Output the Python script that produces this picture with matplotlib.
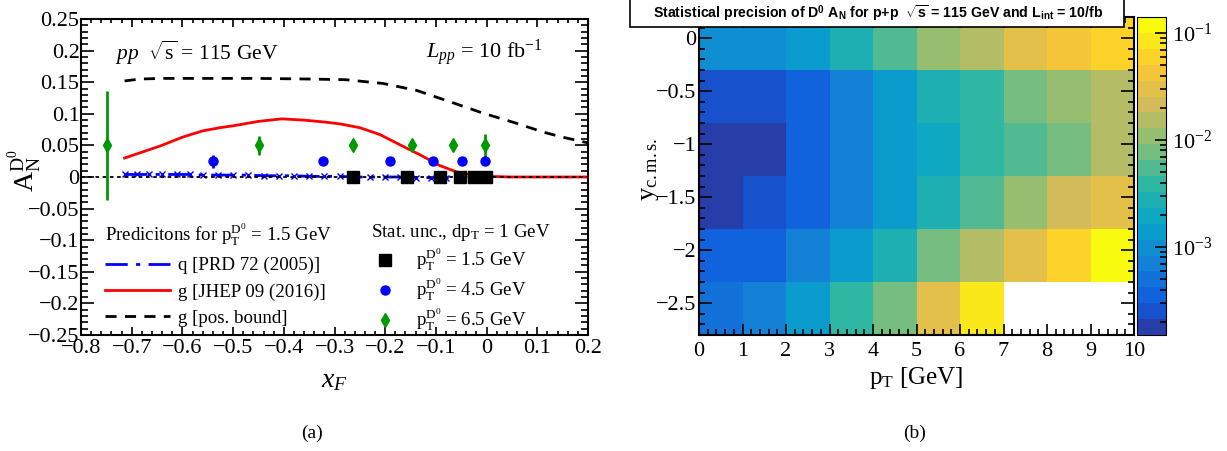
import numpy as np
import matplotlib
matplotlib.use('Agg')
import matplotlib.pyplot as plt
from matplotlib.colors import LinearSegmentedColormap, ListedColormap, LogNorm
from matplotlib.lines import Line2D
from matplotlib.patches import Rectangle
from matplotlib.ticker import MultipleLocator, LogLocator, NullFormatter, FuncFormatter, LogFormatterMathtext

plt.rcParams['font.family'] = ['Liberation Serif', 'DejaVu Serif']
plt.rcParams['mathtext.fontset'] = 'custom'
plt.rcParams['mathtext.rm'] = 'Liberation Serif'
plt.rcParams['mathtext.it'] = 'Liberation Serif:italic'
plt.rcParams['mathtext.bf'] = 'Liberation Serif:bold'
plt.rcParams['mathtext.sf'] = 'Liberation Sans:bold'

# ---------------- data: panel (a) ----------------
q_x = [-0.713, -0.69, -0.665, -0.64, -0.61, -0.585, -0.56, -0.53, -0.5, -0.47, -0.44, -0.41,
       -0.38, -0.35, -0.32, -0.29, -0.26, -0.23, -0.2, -0.17, -0.14, -0.11, -0.08, -0.05, -0.02, 0.0]
q_y = [0.004, 0.004, 0.004, 0.004, 0.004, 0.004, 0.003, 0.003, 0.003, 0.003, 0.002, 0.002,
       0.002, 0.001, 0.001, 0.001, 0.0, 0.0, 0.0, 0.0, -0.001, -0.001, -0.001, 0.0, 0.0, 0.0]

g_x = [-0.714, -0.644, -0.6, -0.56, -0.526, -0.5, -0.45, -0.404, -0.36, -0.32, -0.289, -0.25, -0.21,
       -0.171, -0.131, -0.092, -0.059, -0.027, 0.0, 0.05, 0.1, 0.15, 0.2]
g_y = [0.030, 0.049, 0.063, 0.073, 0.078, 0.081, 0.088, 0.092, 0.090, 0.087, 0.084, 0.078, 0.067,
       0.051, 0.035, 0.018, 0.008, 0.003, 0.001, 0.0, 0.0, 0.0, 0.0]

pos_x = [-0.714, -0.684, -0.64, -0.55, -0.45, -0.35, -0.279, -0.204, -0.138, -0.072, -0.007,
         0.059, 0.112, 0.15, 0.2]
pos_y = [0.152, 0.155, 0.156, 0.156, 0.156, 0.155, 0.154, 0.148, 0.137, 0.119, 0.101,
         0.085, 0.071, 0.063, 0.054]

pt15_x = [-0.264, -0.157, -0.092, -0.052, -0.024, -0.001]
pt15_y = [0.0, 0.0, 0.0, 0.0, 0.0, 0.0]
pt15_err = [0.0, 0.0, 0.0, 0.0, 0.0, 0.0]

pt45_x = [-0.539, -0.323, -0.19, -0.105, -0.048, -0.003]
pt45_y = [0.025, 0.025, 0.025, 0.025, 0.025, 0.025]
pt45_err = [0.010, 0.001, 0.001, 0.001, 0.001, 0.002]

pt65_x = [-0.748, -0.448, -0.264, -0.147, -0.067, -0.003]
pt65_y = [0.05, 0.05, 0.05, 0.05, 0.05, 0.05]
pt65_err = [0.086, 0.015, 0.004, 0.005, 0.005, 0.018]

# ---------------- data: panel (b) ----------------
pt_edges = [0, 1, 2, 3, 4, 5, 6, 7, 8, 9, 10]
y_edges = [-2.8, -2.3, -1.8, -1.3, -0.8, -0.3, 0.2]
# rows listed from top (y = -0.3..0.2) to bottom (y = -2.8..-2.3)
prec_row_top = [9.9e-4, 9.9e-4, 1.40e-3, 2.77e-3, 5.48e-3, 1.09e-2, 1.53e-2, 3.03e-2, 4.27e-2, 6.0e-2]
prec_row_2 = [2.53e-4, 2.53e-4, 3.56e-4, 7.05e-4, 1.40e-3, 2.77e-3, 3.90e-3, 7.73e-3, 1.09e-2, 1.53e-2]
prec_row_3 = [1.79e-4, 1.79e-4, 3.56e-4, 7.05e-4, 1.40e-3, 1.97e-3, 3.90e-3, 5.48e-3, 7.73e-3, 1.53e-2]
prec_row_4 = [1.79e-4, 2.53e-4, 3.56e-4, 7.05e-4, 1.40e-3, 2.77e-3, 5.48e-3, 1.09e-2, 2.15e-2, 3.03e-2]
prec_row_5 = [3.56e-4, 3.56e-4, 7.05e-4, 1.40e-3, 2.77e-3, 7.73e-3, 1.53e-2, 3.03e-2, 6.0e-2, 0.119]
prec_row_bot = [5.0e-4, 7.05e-4, 1.40e-3, 3.90e-3, 7.73e-3, 3.03e-2, 8.46e-2, np.nan, np.nan, np.nan]
z_min, z_max = 1.51e-4, 0.141

# ROOT kBird palette stops
bird_stops = [0.0, 0.125, 0.25, 0.375, 0.5, 0.625, 0.75, 0.875, 1.0]
bird_r = [0.2082, 0.0592, 0.0780, 0.0232, 0.1802, 0.5301, 0.8186, 0.9956, 0.9764]
bird_g = [0.1664, 0.3599, 0.5041, 0.6419, 0.7178, 0.7492, 0.7328, 0.7862, 0.9832]
bird_b = [0.5293, 0.8684, 0.8385, 0.7914, 0.6425, 0.4662, 0.3499, 0.1968, 0.0539]

# ---------------- figure ----------------
W, H = 1227, 451
fig = plt.figure(figsize=(W / 100, H / 100), dpi=100)

def fx(px):
    return px / W

def fy(py):
    return 1 - py / H

tick_fs = 16
minus = '\u2212'

def fmt_g(v, pos):
    s = '%g' % round(v, 6)
    if s == '-0':
        s = '0'
    return s.replace('-', minus)

# ---- panel (a) ----
ax1 = fig.add_axes([fx(81), fy(335), fx(588) - fx(81), fy(19) - fy(335)])
ax1.set_xlim(-0.8, 0.2)
ax1.set_ylim(-0.25, 0.25)

ax1.plot(g_x, g_y, color='#ff0000', lw=2.0, zorder=3)
ax1.plot(pos_x, pos_y, color='black', lw=2.0, dashes=(4, 3), zorder=3)
ax1.plot(q_x, q_y, color='#0000ff', lw=2.0, dashes=(8, 3, 1.5, 3), marker='x', ms=4, mew=1.0, zorder=4)
ax1.axhline(0.0, color='black', lw=1.3, dashes=(2, 2), zorder=5)

ax1.errorbar(pt15_x, pt15_y, yerr=pt15_err, fmt='s', color='black', ms=8, capsize=0, zorder=6)
ax1.errorbar(pt45_x, pt45_y, yerr=pt45_err, fmt='o', color='#0000ff', ms=6.5, elinewidth=2, capsize=0, zorder=6)
ax1.errorbar(pt65_x, pt65_y, yerr=pt65_err, fmt='d', color='#009900', ms=7.5, elinewidth=2, capsize=0, zorder=6)

ax1.xaxis.set_major_locator(MultipleLocator(0.1))
ax1.xaxis.set_minor_locator(MultipleLocator(0.02))
ax1.yaxis.set_major_locator(MultipleLocator(0.05))
ax1.yaxis.set_minor_locator(MultipleLocator(0.01))
ax1.xaxis.set_major_formatter(FuncFormatter(fmt_g))
ax1.yaxis.set_major_formatter(FuncFormatter(fmt_g))
ax1.tick_params(which='both', direction='in', top=True, right=True, labelsize=tick_fs, width=1.2)
ax1.tick_params(axis='x', which='major', length=6, pad=3)
ax1.tick_params(axis='x', which='minor', length=3)
ax1.tick_params(axis='y', which='major', length=9.5, pad=1)
ax1.tick_params(axis='y', which='minor', length=5)
for sp in ax1.spines.values():
    sp.set_linewidth(1.5)

ax1.text(0.067, 0.893, r'$pp$  $\sqrt{\mathrm{s}}$ = 115 GeV', transform=ax1.transAxes, fontsize=15.5,
         ha='left', va='center')
ax1.text(0.911, 0.893, r'$L_{pp}$ = 10 fb$^{\mathrm{-1}}$', transform=ax1.transAxes, fontsize=16,
         ha='right', va='center')

ax1.set_xlabel(r'$x_{F}$', fontsize=20, labelpad=7)
ax1.set_ylabel(r'A$_{\mathrm{N}}^{\mathrm{D}^{0}}$', fontsize=20)
ax1.yaxis.set_label_coords(-0.072, 0.52)

leg_fs = 13.6
h_q = Line2D([], [], color='#0000ff', lw=2.0, dashes=(8, 3, 1.5, 3))
h_g = Line2D([], [], color='#ff0000', lw=2.0)
h_p = Line2D([], [], color='black', lw=2.0, dashes=(4, 3))
leg1 = ax1.legend([h_q, h_g, h_p], ['q [PRD 72 (2005)]', 'g [JHEP 09 (2016)]', 'g [pos. bound]'],
                  title=r'Predicitons for p$_{\mathrm{T}}^{\mathrm{D}^{0}}$ = 1.5 GeV', title_fontsize=leg_fs,
                  fontsize=leg_fs, loc='upper left', bbox_to_anchor=(0.022, 0.40), frameon=False,
                  alignment='left', handlelength=3.4, handletextpad=0.45, labelspacing=0.48, borderpad=0.2)
ax1.add_artist(leg1)
h_s = Line2D([], [], color='black', marker='s', ls='none', ms=8)
h_c = Line2D([], [], color='#0000ff', marker='o', ls='none', ms=6.5)
h_d = Line2D([], [], color='#009900', marker='d', ls='none', ms=7.5)
leg2 = ax1.legend([h_s, h_c, h_d],
                  [r'p$_{\mathrm{T}}^{\mathrm{D}^{0}}$ = 1.5 GeV', r'p$_{\mathrm{T}}^{\mathrm{D}^{0}}$ = 4.5 GeV',
                   r'p$_{\mathrm{T}}^{\mathrm{D}^{0}}$ = 6.5 GeV'],
                  title=r'Stat. unc., dp$_{\mathrm{T}}$ = 1 GeV', title_fontsize=leg_fs,
                  fontsize=leg_fs, loc='upper left', bbox_to_anchor=(0.545, 0.40), frameon=False,
                  alignment='left', handlelength=1.5, handletextpad=0.9, labelspacing=0.2, borderpad=0.2)

# ---- panel (b) ----
cvals = np.linspace(0, 1, 20 + 1)[1:]
bird = LinearSegmentedColormap.from_list('bird', list(zip(bird_stops, np.column_stack([bird_r, bird_g, bird_b]))))
cmap = ListedColormap([bird(c) for c in cvals])
cmap.set_bad('white')
norm = LogNorm(vmin=z_min, vmax=z_max)

Z = np.array([prec_row_bot, prec_row_5, prec_row_4, prec_row_3, prec_row_2, prec_row_top])
Z = np.ma.masked_invalid(Z)

ax2 = fig.add_axes([fx(699), fy(335), fx(1134) - fx(699), fy(17) - fy(335)])
mesh = ax2.pcolormesh(pt_edges, y_edges, Z, cmap=cmap, norm=norm)
ax2.set_xlim(0, 10)
ax2.set_ylim(-2.8, 0.2)
ax2.xaxis.set_major_locator(MultipleLocator(1))
ax2.xaxis.set_minor_locator(MultipleLocator(0.2))
ax2.yaxis.set_major_locator(MultipleLocator(0.5))
ax2.yaxis.set_minor_locator(MultipleLocator(0.1))
ax2.xaxis.set_major_formatter(FuncFormatter(fmt_g))
ax2.yaxis.set_major_formatter(FuncFormatter(fmt_g))
ax2.tick_params(which='both', direction='in', top=True, right=True, labelsize=tick_fs, width=1.2)
ax2.tick_params(axis='x', which='major', length=8, pad=5)
ax2.tick_params(axis='x', which='minor', length=4)
ax2.tick_params(axis='y', which='major', length=9.5, pad=2)
ax2.tick_params(axis='y', which='minor', length=4.5)
for sp in ax2.spines.values():
    sp.set_linewidth(1.5)
ax2.set_xlabel(r'p$_{\mathrm{T}}$ [GeV]', fontsize=18, labelpad=3)
ax2.set_ylabel(r'y$_{\mathrm{c.m.s.}}$', fontsize=19)
ax2.yaxis.set_label_coords(-0.088, 0.52)

cax = fig.add_axes([fx(1137), fy(335), fx(1166) - fx(1137), fy(17) - fy(335)])
cb = fig.colorbar(mesh, cax=cax)
cb.outline.set_linewidth(0.8)
cax.yaxis.set_major_locator(LogLocator(base=10))
cax.yaxis.set_minor_locator(LogLocator(base=10, subs=np.arange(2, 10)))
cax.yaxis.set_minor_formatter(NullFormatter())
cax.yaxis.set_major_formatter(LogFormatterMathtext())
cax.tick_params(which='both', direction='in', right=True, labelsize=16, width=1.2)
cax.tick_params(which='major', length=8, pad=4)
cax.tick_params(which='minor', length=4)

# title box
fig.add_artist(Rectangle((fx(630), fy(27)), fx(1124) - fx(630), 0.1, transform=fig.transFigure,
                         facecolor='white', edgecolor='black', lw=1.2, clip_on=False, zorder=10))
fig.text(fx(878), fy(13), r'Statistical precision of D$^{\mathsf{0}}$ A$_{\mathsf{N}}$ for p+p  $\sqrt{\mathsf{s}}$ = 115 GeV and L$_{\mathsf{int}}$ = 10/fb',
         family='Liberation Sans', weight='bold', fontsize=10.2, ha='center', va='center', zorder=11)

# captions
fig.text(fx(312), fy(433), '(a)', fontsize=14, ha='center', va='center')
fig.text(fx(915), fy(433), '(b)', fontsize=14, ha='center', va='center')

fig.savefig('out.png', dpi=100)
